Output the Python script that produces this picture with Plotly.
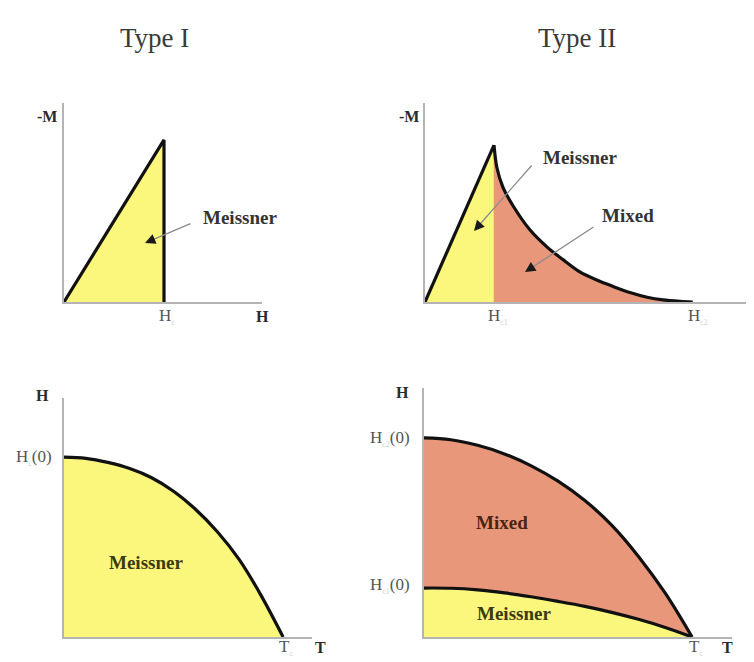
import plotly.graph_objects as go

# The page body has an 8px margin, so the figure is 8px smaller and all
# page-pixel positions are shifted by that offset.
OFF = 8
W, H = 754 - OFF, 662 - OFF

# ---------------- data (reduced units) ----------------
# Type I, -M vs H  (Hc = 1, peak -M = 1)
t1_mh_h = [0.0, 1.0, 1.0]
t1_mh_m = [0.0, 1.0, 0.0]
# Type II, -M vs H, Meissner part (Hc1 = 1)
t2_meis_h = [0.0, 1.0, 1.0]
t2_meis_m = [0.0, 1.0, 0.0]
# Type II, mixed state tail from Hc1 to Hc2
t2_mix_h = [1.0, 1.04, 1.13, 1.28, 1.52, 1.77, 2.0, 2.25, 2.49, 2.72, 2.97, 3.22, 3.45, 3.70, 3.88]
t2_mix_m = [1.0, 0.86, 0.73, 0.61, 0.46, 0.35, 0.27, 0.19, 0.14, 0.10, 0.06, 0.03, 0.013, 0.004, 0.0]
# Type I, Hc(T)
t1_ht_t = [0.0, 0.1, 0.2, 0.3, 0.4, 0.5, 0.6, 0.7, 0.8, 0.9, 1.0]
t1_ht_h = [1.0, 0.993, 0.97, 0.936, 0.885, 0.81, 0.71, 0.585, 0.43, 0.23, 0.0]
# Type II, Hc2(T) and Hc1(T)
t2_hc2_t = [0.0, 0.1, 0.2, 0.3, 0.4, 0.5, 0.6, 0.7, 0.8, 0.9, 1.0]
t2_hc2_h = [1.0, 0.991, 0.963, 0.92, 0.86, 0.783, 0.686, 0.562, 0.405, 0.22, 0.0]
t2_hc1_t = [0.0, 0.1, 0.2, 0.3, 0.4, 0.5, 0.6, 0.7, 0.8, 0.9, 1.0]
t2_hc1_h = [0.246, 0.245, 0.237, 0.222, 0.202, 0.179, 0.154, 0.124, 0.089, 0.048, 0.0]

YELLOW = "#FAF77C"
SALMON = "#E9977B"
BLACK = "#111111"
AXIS = "#B4B4B4"
SERIF = "Liberation Serif, Times New Roman, serif"


def X(px):
    return (px - OFF) / W


def Y(py):
    return 1 - (py - OFF) / H


CURVE = dict(color=BLACK, width=3.2, shape="spline", smoothing=1.0)
STRAIGHT = dict(color=BLACK, width=3.2)

fig = go.Figure()

# ---------- panel 1 : Type I magnetisation ----------
fig.add_trace(go.Scatter(x=t1_mh_h, y=t1_mh_m, mode="lines", fill="tozeroy",
                         fillcolor=YELLOW, line=STRAIGHT,
                         xaxis="x", yaxis="y"))

# ---------- panel 2 : Type II magnetisation ----------
fig.add_trace(go.Scatter(x=t2_meis_h, y=t2_meis_m, mode="lines", fill="tozeroy",
                         fillcolor=YELLOW, line=dict(color="#d8d070", width=1),
                         xaxis="x2", yaxis="y2"))
fig.add_trace(go.Scatter(x=t2_mix_h, y=t2_mix_m, mode="lines", fill="tozeroy",
                         fillcolor=SALMON, line=dict(color=BLACK, width=3.2,
                                                     shape="spline", smoothing=0.8),
                         xaxis="x2", yaxis="y2"))
fig.add_trace(go.Scatter(x=t2_meis_h[:2], y=t2_meis_m[:2], mode="lines",
                         line=STRAIGHT, xaxis="x2", yaxis="y2"))

# ---------- panel 3 : Type I phase diagram ----------
fig.add_trace(go.Scatter(x=t1_ht_t, y=t1_ht_h, mode="lines", fill="tozeroy",
                         fillcolor=YELLOW, line=CURVE,
                         xaxis="x3", yaxis="y3"))

# ---------- panel 4 : Type II phase diagram ----------
fig.add_trace(go.Scatter(x=t2_hc2_t, y=t2_hc2_h, mode="lines", fill="tozeroy",
                         fillcolor=SALMON, line=CURVE,
                         xaxis="x4", yaxis="y4"))
fig.add_trace(go.Scatter(x=t2_hc1_t, y=t2_hc1_h, mode="lines", fill="tozeroy",
                         fillcolor=YELLOW, line=CURVE,
                         xaxis="x4", yaxis="y4"))


def ax_common():
    return dict(showline=True, linecolor=AXIS, linewidth=1.6, showgrid=False,
                zeroline=False, showticklabels=False, ticks="", fixedrange=True)


# panel boxes in page pixels: (left, right, top, bottom) and data ranges
panels = {
    "": ((64, 262, 103, 302), (0, 1.98), (0, 1.228)),
    "2": ((425, 754, 103, 302), (0, 4.768), (0, 1.268)),
    "3": ((64, 312, 398, 637), (0, 1.132), (0, 1.328)),
    "4": ((424, 732, 388, 637), (0, 1.149), (0, 1.251)),
}
for k, ((l, r, t, b), xr, yr) in panels.items():
    xa = ax_common()
    xa.update(domain=[X(l), min(X(r), 1.0)], range=list(xr), anchor="y" + k)
    ya = ax_common()
    ya.update(domain=[Y(b), Y(t)], range=list(yr), anchor="x" + k)
    fig.layout["xaxis" + k] = xa
    fig.layout["yaxis" + k] = ya

ann = []


def text(px, py, s, size=17, bold=False, color="#555555", xanchor="center"):
    if bold:
        s = "<b>" + s + "</b>"
    ann.append(dict(x=X(px), y=Y(py), xref="paper", yref="paper", text=s,
                    showarrow=False, xanchor=xanchor, yanchor="middle",
                    font=dict(family=SERIF, size=size, color=color)))


def sub(s):
    return "<sub><span style='color:#d0d0d0;font-size:8px'>" + s + "</span></sub>"


# titles
text(154, 38, "Type I", size=27, color="#3a3a3a")
text(577, 38, "Type II", size=27, color="#3a3a3a")

# panel 1 labels
text(47, 117, "-M", size=16, bold=True, color="#2a2a2a")
text(240, 217, "Meissner", size=19, bold=True, color="#333333")
text(157, 316, "H" + sub("c"), xanchor="left")
text(262, 316, "H", size=16, bold=True, color="#2a2a2a")

# panel 2 labels
text(409, 117, "-M", size=16, bold=True, color="#2a2a2a")
text(580, 157, "Meissner", size=19, bold=True, color="#333333")
text(628, 216, "Mixed", size=19, bold=True, color="#333333")
text(486, 316, "H" + sub("c1"), xanchor="left")
text(686, 316, "H" + sub("c2"), xanchor="left")
text(745, 316, "H", size=16, bold=True, color="#2a2a2a", xanchor="left")

# panel 3 labels
text(42, 395, "H", size=16, bold=True, color="#2a2a2a")
text(14, 457, "H" + sub("c") + "(0)", xanchor="left")
text(146, 562, "Meissner", size=19, bold=True, color="#3a3a10")
text(277, 647, "T" + sub("c"), xanchor="left")
text(320, 647, "T", size=16, bold=True, color="#2a2a2a")

# panel 4 labels
text(402, 392, "H", size=16, bold=True, color="#2a2a2a")
text(412, 438, "H" + sub("c2") + "(0)", xanchor="right")
text(412, 585, "H" + sub("c1") + "(0)", xanchor="right")
text(502, 522, "Mixed", size=19, bold=True, color="#4a2415")
text(514, 613, "Meissner", size=19, bold=True, color="#3a3a10")
text(687, 647, "T" + sub("c"), xanchor="left")
text(727, 647, "T", size=16, bold=True, color="#2a2a2a")


def arrow(tip, tail):
    tx, ty = tip
    sx, sy = tail
    dx, dy = sx - tx, sy - ty
    n = (dx * dx + dy * dy) ** 0.5
    # grey shaft
    ann.append(dict(x=X(tx), y=Y(ty), xref="paper", yref="paper", text="",
                    showarrow=True, ax=dx, ay=dy, arrowhead=0, arrowwidth=1.3,
                    arrowcolor="#8a8a8a", standoff=6))
    # dark head
    ann.append(dict(x=X(tx), y=Y(ty), xref="paper", yref="paper", text="",
                    showarrow=True, ax=dx / n * 9, ay=dy / n * 9, arrowhead=2,
                    arrowsize=1.3, arrowwidth=1.6, arrowcolor="#1a1a1a"))


arrow((145, 243), (192, 223))
arrow((474, 231), (533, 164))
arrow((525, 272), (595, 226))

fig.update_layout(
    width=W, height=H, margin=dict(l=0, r=0, t=0, b=0),
    paper_bgcolor="white", plot_bgcolor="rgba(0,0,0,0)",
    showlegend=False, annotations=ann, hovermode=False,
)

fig.write_html("out.html", config={"displayModeBar": False})
